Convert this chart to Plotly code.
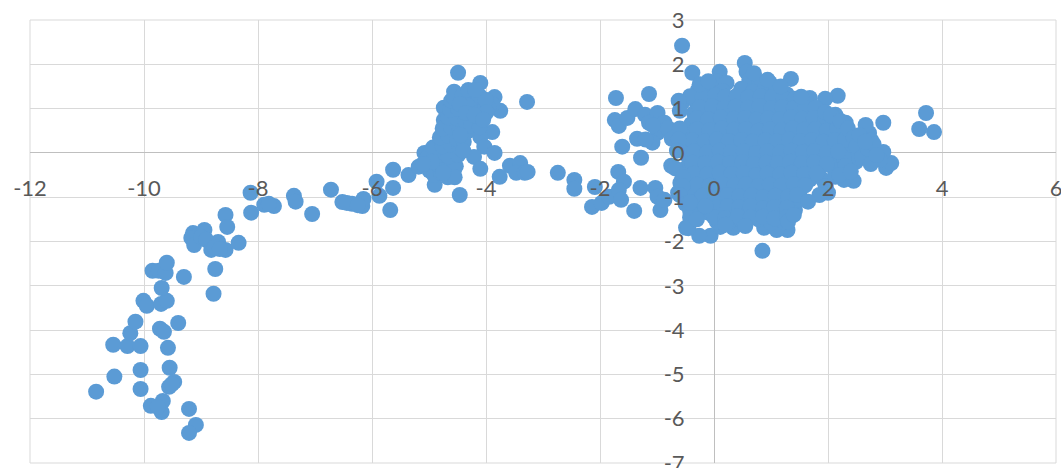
import plotly.graph_objects as go

# Far-left arc
arc_x = [-10.84,-10.52,-10.06,-10.06,-10.54,-10.29,-10.06,-10.24,-10.15,-10.01,-9.95,-9.70,-9.60,-9.69,-9.85,-9.74,-9.62,-9.60,-9.30,-8.75,-8.78,
         -9.40,-9.72,-9.65,-9.58,-9.55,-9.47,-9.56,-9.51,-9.21,-9.09,-9.21,-9.88,-9.67,-9.69,-9.76,
         -9.14,-9.17,-9.12,-8.94,-9.00,-8.91,-8.82,-8.70,-8.57,-8.76,-8.67,-8.34,-8.57,-8.54,
         -8.13,-8.12,-7.89,-7.72,-7.81,-7.37,-7.34,-7.05,-6.72,-6.52,-6.35,-6.17,-6.15,-5.92,-5.87,-5.63,-5.63,-5.68,-6.44,-6.25]
arc_y = [-5.39,-5.05,-4.90,-5.33,-4.33,-4.36,-4.36,-4.07,-3.81,-3.34,-3.45,-3.41,-3.34,-3.05,-2.66,-2.66,-2.71,-2.48,-2.80,-2.62,-3.18,
         -3.84,-3.97,-4.04,-4.40,-4.85,-5.17,-5.28,-5.22,-5.78,-6.14,-6.32,-5.71,-5.60,-5.85,-5.73,
         -1.81,-1.92,-2.08,-1.74,-1.90,-1.96,-2.19,-2.01,-2.19,-2.13,-2.17,-2.03,-1.40,-1.67,
         -0.90,-1.35,-1.17,-1.20,-1.15,-0.97,-1.10,-1.38,-0.83,-1.11,-1.15,-1.20,-1.04,-0.65,-0.97,-0.38,-0.79,-1.29,-1.13,-1.18]

# Cluster around x = -4.5
mid_x = [-5.36,-5.18,-5.08,-4.99,-4.90,-4.56,-4.60,-4.46,-4.49,-4.10,-4.56,-3.85,-3.75,-4.74,-4.74,-3.89,-4.10,-4.03,-3.85,-4.21,-4.10,-3.76,-3.58,-3.40,-3.47,-3.32,-3.28,-3.27,
         -4.91,-4.79,-4.67,-4.86,-4.71,-4.53,-5.03,-4.83,-4.66,-4.49,-4.93,-4.76,-4.61,-4.46,-4.81,-4.66,-4.51,-4.39,-4.76,-4.61,-4.46,-4.33,
         -4.66,-4.51,-4.36,-4.21,-4.63,-4.49,-4.33,-4.19,-4.03,-4.61,-4.46,-4.31,-4.16,-4.01,-3.89,-4.56,-4.41,-4.26,-4.11,-3.96,-4.46,-4.31,-4.16,-4.01,-4.26,-4.11,-4.19,-3.99,
         -4.55,-4.75,-4.95,-5.10,-4.40,-4.45,-4.35,-4.20,-4.05]
mid_y = [-0.50,-0.31,0.00,-0.40,-0.72,-0.38,-0.50,-0.95,1.81,1.58,1.38,1.26,0.95,1.02,0.74,0.47,0.36,0.14,0.00,-0.09,-0.36,-0.54,-0.29,-0.23,-0.45,-0.45,1.15,-0.43,
         -0.50,-0.45,-0.55,-0.25,-0.28,-0.30,-0.10,-0.05,-0.08,-0.05,0.12,0.15,0.18,0.12,0.35,0.38,0.32,0.25,0.55,0.58,0.52,0.48,
         0.80,0.78,0.72,0.68,0.98,1.00,0.92,0.88,0.85,1.18,1.15,1.10,1.08,1.05,1.10,1.25,1.30,1.22,1.28,1.02,1.10,1.42,1.35,1.20,0.62,0.58,1.42,0.92,
         -0.55,-0.45,-0.20,-0.25,0.05,0.40,0.90,0.85,0.75]

# Scatter between the two clusters, and outliers around the central blob
gap_x = [-2.74,-2.45,-2.45,-2.09,-2.14,-1.97,-1.84,-1.68,-1.58,-1.67,-1.63,-1.40,-1.29,-1.03,-0.99,-0.94,-0.87,
         -1.72,-1.14,-1.74,-1.67,-1.52,-1.38,-1.21,-0.99,-1.14,-0.87,-0.99,-1.08,-1.35,-1.20,-1.61,-1.28,-1.07,-0.80,-0.74,
         -0.56,-0.38,0.10,0.54,0.57,1.35,2.17,1.95,1.68,2.97,3.72,3.60,3.86,0.85,-0.06,-0.26,-0.49,-0.36,-0.59,-0.75,-0.63,
         2.45,2.28,3.02,3.11,2.97,2.72,2.66,2.49,2.84,2.61,2.31,2.13,1.29,1.10,0.88,0.34,0.11,1.42,1.47,2.76,2.91,2.56,2.41]
gap_y = [-0.45,-0.61,-0.81,-0.77,-1.22,-1.13,-0.99,-0.43,-0.65,-0.84,-1.06,-1.31,-0.79,-0.79,-0.99,-1.29,-1.06,
         1.24,1.33,0.74,0.61,0.79,0.99,0.86,0.90,0.68,0.68,0.45,0.23,0.32,0.30,0.14,-0.11,0.62,0.55,0.32,
         2.42,1.81,1.83,2.03,1.83,1.67,1.29,1.22,1.24,0.68,0.90,0.54,0.47,-2.21,-1.87,-1.87,-1.69,-1.35,-0.68,-0.29,-0.90,
         -0.63,-0.61,-0.34,-0.23,0.02,0.45,0.63,-0.20,-0.09,0.23,0.68,0.86,-1.74,-1.74,-1.69,-1.69,-1.67,-1.29,-1.06,0.28,-0.15,0.05,-0.05]

# Dense central blob, read row by row
blob_x = [0.05,0.22,0.62,0.80,0.98,
          -0.28,-0.08,0.15,0.48,0.68,0.88,1.08,1.28,
          -0.55,-0.32,-0.12,0.10,0.30,0.50,0.72,0.92,1.12,1.32,1.52,
          -0.35,-0.15,0.07,0.28,0.48,0.70,0.90,1.10,1.30,1.50,1.70,1.88,
          -0.40,-0.20,0.02,0.22,0.45,0.65,0.85,1.05,1.25,1.45,1.65,1.85,2.05,2.20,
          -0.40,-0.18,0.04,0.25,0.47,0.68,0.88,1.08,1.30,1.50,1.70,1.90,2.10,2.25,
          -0.50,-0.28,-0.06,0.15,0.37,0.58,0.78,1.00,1.20,1.42,1.62,1.82,2.02,2.22,2.38,
          -0.45,-0.22,0.00,0.20,0.42,0.62,0.85,1.05,1.25,1.47,1.67,1.87,2.08,2.28,
          -0.50,-0.28,-0.05,0.17,0.38,0.60,0.80,1.02,1.22,1.44,1.64,1.85,2.12,
          -0.45,-0.22,0.00,0.20,0.42,0.64,0.84,1.06,1.26,1.48,1.68,1.92,
          -0.40,-0.18,0.04,0.25,0.46,0.67,0.88,1.08,1.30,1.50,
          -0.30,-0.08,0.14,0.34,0.56,0.76,0.98,1.18,1.42,
          -0.10,0.12,0.32,0.54,0.74,0.96,1.16,1.38,
          0.05,0.25,0.48,0.78,1.00,1.22]
blob_y = [1.62,1.58,1.65,1.60,1.58,
          1.42,1.38,1.40,1.45,1.38,1.42,1.36,1.32,
          1.15,1.18,1.12,1.16,1.12,1.18,1.14,1.12,1.16,1.12,1.10,
          0.90,0.92,0.88,0.90,0.86,0.92,0.88,0.90,0.86,0.90,0.92,0.95,
          0.65,0.62,0.66,0.68,0.63,0.64,0.68,0.62,0.66,0.64,0.68,0.62,0.70,0.66,
          0.40,0.38,0.42,0.44,0.38,0.40,0.42,0.36,0.40,0.44,0.38,0.42,0.40,0.44,
          0.15,0.12,0.18,0.14,0.16,0.12,0.18,0.14,0.16,0.12,0.18,0.14,0.16,0.12,0.18,
          -0.10,-0.08,-0.12,-0.10,-0.06,-0.12,-0.08,-0.10,-0.14,-0.08,-0.12,-0.06,-0.10,-0.12,
          -0.35,-0.38,-0.33,-0.36,-0.32,-0.38,-0.34,-0.36,-0.32,-0.38,-0.34,-0.36,-0.40,
          -0.60,-0.62,-0.58,-0.60,-0.64,-0.58,-0.62,-0.60,-0.56,-0.62,-0.60,-0.62,
          -0.85,-0.88,-0.84,-0.86,-0.82,-0.88,-0.84,-0.86,-0.82,-0.88,
          -1.10,-1.12,-1.08,-1.10,-1.06,-1.12,-1.08,-1.10,-1.08,
          -1.35,-1.38,-1.34,-1.36,-1.32,-1.38,-1.34,-1.36,
          -1.55,-1.58,-1.52,-1.50,-1.58,-1.55]

# Further points read between those rows
fill_x = [-0.42,-0.20,0.02,0.20,0.40,0.60,0.82,1.02,1.22,1.42,
          -0.25,-0.03,0.18,0.38,0.60,0.80,1.00,1.20,1.40,1.60,1.78,
          -0.30,-0.10,0.12,0.35,0.55,0.75,0.95,1.15,1.35,1.55,1.75,1.95,2.10,
          -0.30,-0.08,0.14,0.35,0.56,0.78,0.98,1.18,1.38,1.58,1.78,1.98,2.16,
          -0.38,-0.16,0.05,0.26,0.48,0.68,0.90,1.10,1.32,1.52,1.72,1.92,2.12,2.30,
          -0.35,-0.12,0.10,0.30,0.52,0.74,0.94,1.16,1.36,1.56,1.76,1.98,2.18,
          -0.38,-0.15,0.07,0.28,0.50,0.70,0.92,1.12,1.34,1.54,1.76,1.98,
          -0.35,-0.12,0.10,0.30,0.52,0.74,0.94,1.16,1.36,1.58,1.80,
          -0.30,-0.08,0.14,0.36,0.56,0.78,0.98,1.18,1.40,1.60,
          -0.20,0.02,0.24,0.44,0.66,0.86,1.08,1.30,1.46,
          -0.15,0.04,0.24,0.44,0.64,0.86,1.06,1.28,
          0.00,0.20,0.42,0.64,0.86,1.06,1.28]
fill_y = [1.28,1.26,1.30,1.27,1.29,1.25,1.28,1.26,1.24,1.22,
          1.03,1.05,1.01,1.04,1.02,1.06,1.00,1.03,1.01,1.04,1.02,
          0.78,0.76,0.80,0.77,0.79,0.75,0.78,0.76,0.80,0.77,0.79,0.76,0.80,
          0.53,0.51,0.55,0.52,0.54,0.50,0.53,0.51,0.55,0.52,0.54,0.50,0.56,
          0.28,0.26,0.30,0.27,0.29,0.25,0.28,0.26,0.30,0.27,0.29,0.25,0.28,0.30,
          0.03,0.01,0.05,0.02,0.04,0.00,0.03,0.01,0.05,0.02,0.04,0.00,0.03,
          -0.22,-0.24,-0.20,-0.23,-0.21,-0.25,-0.22,-0.24,-0.20,-0.23,-0.21,-0.25,
          -0.47,-0.49,-0.45,-0.48,-0.46,-0.50,-0.47,-0.49,-0.45,-0.48,-0.46,
          -0.72,-0.74,-0.70,-0.73,-0.71,-0.75,-0.72,-0.74,-0.70,-0.73,
          -0.97,-0.99,-0.95,-0.98,-0.96,-1.00,-0.97,-0.99,-0.95,
          -1.22,-1.24,-1.20,-1.23,-1.21,-1.25,-1.22,-1.24,
          -1.45,-1.47,-1.43,-1.46,-1.44,-1.48,-1.45]

# Points on the edge of the blob
edge_x = [-0.62,-0.60,-0.60,-0.62,-0.65,-0.68,-0.55,-0.55,-0.60,-0.50,-0.42,-0.42,-0.45,
          -0.25,-0.10,0.70,0.94,1.17,1.53,1.96,2.13,0.55,0.20,1.30,1.40,
          1.95,2.05,2.22,2.35,2.45,2.50,2.60,2.70,2.80,2.30,2.20,2.00,1.85,1.65,2.40,2.55,2.65,2.75,2.85,-0.42,-0.30,-0.15]
edge_y = [1.18,0.95,0.55,0.30,0.05,-0.35,-0.55,-0.75,-0.95,-1.15,-1.30,-1.45,-1.70,
          1.55,1.62,1.80,1.65,1.50,1.27,-0.76,-0.54,-1.65,-1.62,-1.55,-1.40,
          0.92,0.85,0.72,0.55,0.35,0.15,-0.10,0.10,0.20,-0.30,-0.50,-0.90,-0.95,-1.10,-0.42,0.40,0.25,-0.25,-0.05,-1.12,-1.50,-1.20]

x_ticks = [-12,-10,-8,-6,-4,-2,0,2,4,6]
y_ticks = [-7,-6,-5,-4,-3,-2,-1,0,1,2,3]

fig = go.Figure()
fig.add_trace(go.Scatter(
    x=arc_x + mid_x + gap_x + blob_x + fill_x + edge_x,
    y=arc_y + mid_y + gap_y + blob_y + fill_y + edge_y,
    mode="markers",
    marker=dict(size=16, color="#5B9BD5", line=dict(width=0)),
    hoverinfo="skip", showlegend=False, cliponaxis=False,
))

tick_font = dict(family="Lato, Open Sans, sans-serif", size=22, color="#595959")
fig.update_layout(
    width=1061, height=468, autosize=False,
    margin=dict(l=30, r=5, t=20, b=5),
    paper_bgcolor="white", plot_bgcolor="white",
    xaxis=dict(range=[-12, 6], tickvals=x_ticks, ticktext=[str(v) for v in x_ticks],
               anchor="free", position=0.7, side="bottom",
               showgrid=True, gridcolor="#D9D9D9", gridwidth=1,
               zeroline=True, zerolinecolor="#BFBFBF", zerolinewidth=1,
               showline=False, ticks="outside", ticklen=16, tickcolor="rgba(0,0,0,0)",
               tickfont=tick_font, automargin=False, tickangle=0, ticklabeloverflow="allow"),
    yaxis=dict(range=[-7, 3], tickvals=y_ticks, ticktext=[str(v) for v in y_ticks],
               anchor="free", position=12/18, side="left",
               showgrid=True, gridcolor="#D9D9D9", gridwidth=1,
               zeroline=True, zerolinecolor="#BFBFBF", zerolinewidth=1,
               showline=False, ticks="outside", ticklen=25, tickcolor="rgba(0,0,0,0)",
               tickfont=tick_font, automargin=False, ticklabeloverflow="allow"),
    shapes=[dict(type="rect", xref="paper", yref="paper", x0=0, y0=0, x1=1, y1=1,
                 line=dict(color="#D9D9D9", width=1), layer="below")],
)
fig.write_html("out.html", config={"displayModeBar": False},
               post_script="document.body.style.margin='0';")
